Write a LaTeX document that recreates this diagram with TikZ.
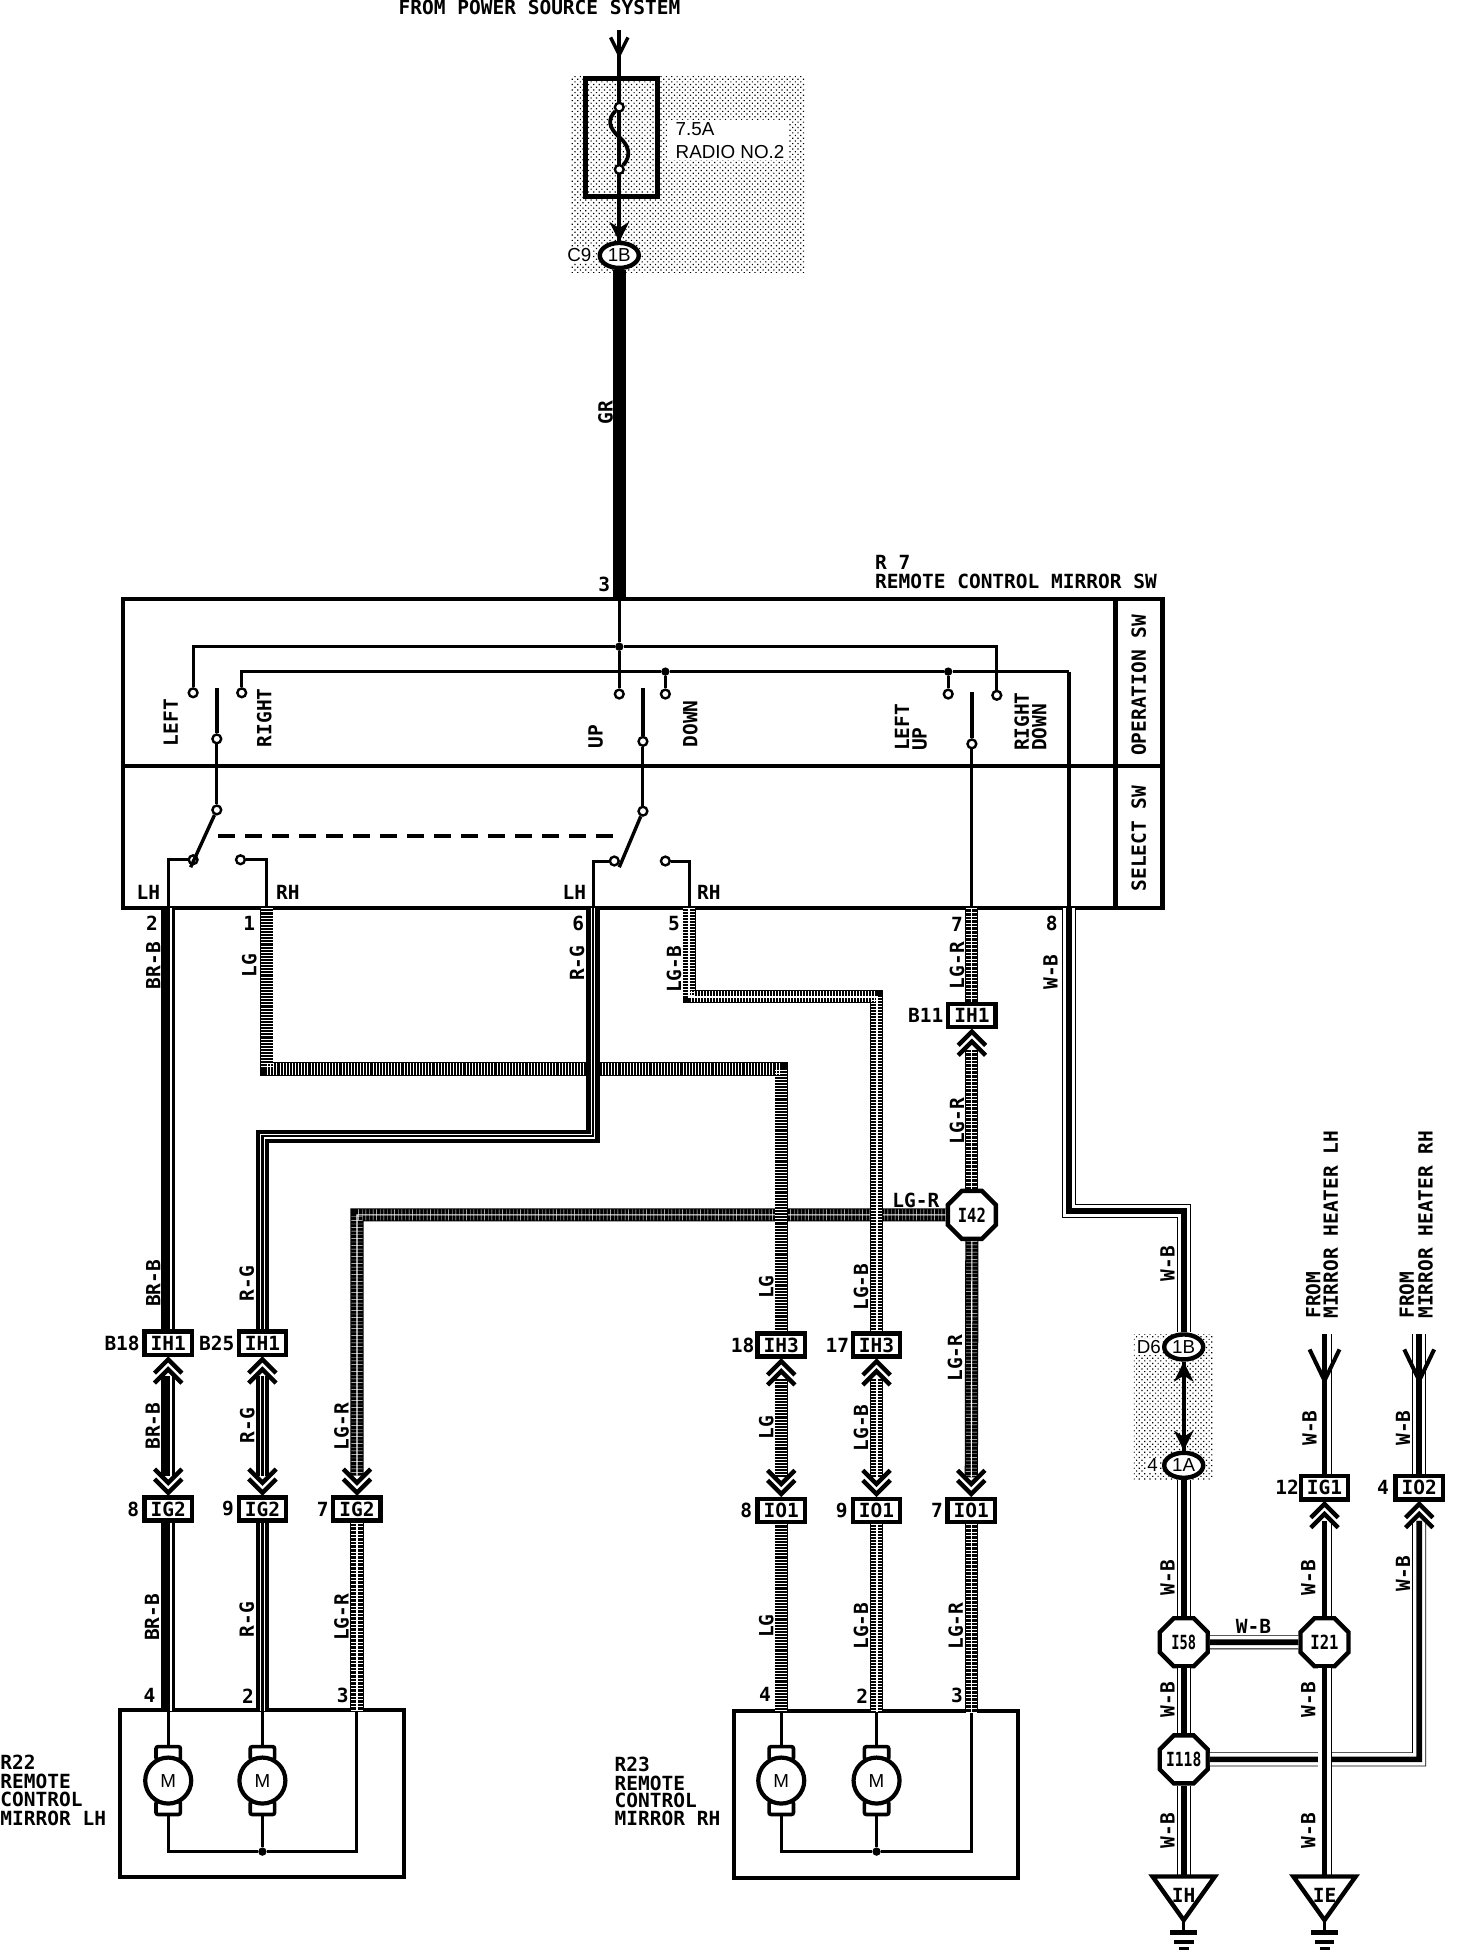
\documentclass[tikz,border=0pt]{standalone}
\usepackage{fontspec}
\setmainfont{Liberation Sans}
\newfontfamily\lbfam{DejaVu Sans Mono}
\usetikzlibrary{shapes.geometric,patterns.meta,calc}
\newcommand\lb{\fontsize{9.75}{11}\selectfont\lbfam\bfseries}
\newcommand\sn{\fontsize{9.4}{11}\selectfont}
\newcommand\oc[2][.8]{\makebox[0pt]{\scalebox{#1}[1]{#2}}}
\newcounter{tc}
\tikzset{
  lab/.style={font=\lb,inner sep=0pt},
  vlab/.style={font=\lb,inner sep=0pt,rotate=90},
  slab/.style={font=\sn,inner sep=0pt},
  sbg/.style={font=\sn,inner sep=.6pt,fill=white},
  brd/.style={line width=2pt,line join=miter},
  thn/.style={line width=1.5pt,line join=miter},
  termn/.style={circle,draw,fill=white,line width=1.2pt,minimum size=4.4pt,inner sep=0pt},
  jn/.style={circle,fill=black,minimum size=4.2pt,inner sep=0pt},
  conn/.style={rectangle,draw,fill=white,line width=2.2pt,minimum width=23.7pt,minimum height=11.6pt,inner sep=0pt,font=\lb},
  oval/.style={ellipse,draw,fill=white,line width=2.2pt,minimum width=19.5pt,minimum height=12.5pt,inner sep=0pt,font=\sn},
  octa/.style={regular polygon,regular polygon sides=8,draw,fill=white,line width=2.2pt,minimum size=26pt,inner sep=0pt,font=\lb},
  brb/.style={draw=black,line width=7pt,postaction={draw=white,line width=.55pt,transform canvas={xshift=1.4pt}}},
  lg/.style={draw=black,line width=6.7pt,postaction={draw=white,line width=6pt,dash pattern=on .25pt off 1.3pt}},
  rg/.style={draw=black,line width=6.8pt,postaction={draw=white,line width=2.2pt},postaction={draw=black,line width=1.1pt}},
  lgb/.style={draw=black,line width=6.5pt,postaction={draw=white,line width=5.6pt,dash pattern=on .3pt off 1.2pt},postaction={draw=white,line width=1pt}},
  lgr/.style={draw=black,line width=6.6pt,postaction={draw=white,line width=5.6pt,dash pattern=on .2pt off 1.6pt},postaction={draw=white,line width=.55pt}},
  wb/.style={draw=black,line width=7pt,postaction={draw=white,line width=6.2pt},postaction={draw=black,line width=2.8pt}},
  stipple/.style={pattern={Dots[radius=.42pt,distance=1.9pt,angle=45]},pattern color=black},
  endarrow/.style={shorten >=9.7pt},
  startarrow/.style={shorten <=9.7pt},
  chevd/.pic={\draw[line width=2.2pt,line join=miter] (-11,-12)--(0,-1)--(11,-12) (-11,-20)--(0,-9)--(11,-20);},
  chevu/.pic={\draw[line width=2.2pt,line join=miter] (-11,12)--(0,1)--(11,12) (-11,20)--(0,9)--(11,20);},
  openv/.pic={\draw[line width=2pt,line join=miter] (-12,-25)--(0,0)--(12,-25);},
  openvs/.pic={\draw[line width=1.7pt,line join=miter] (-7,-14)--(0,0)--(7,-14);},
  soliddn/.pic={\fill (0,0)--(-8,-16)--(0,-11)--(8,-16)--cycle;},
  solidup/.pic={\fill (0,0)--(-8,16)--(0,11)--(8,16)--cycle;},
}
\newcommand\tx[4][lab]{\stepcounter{tc}\node[#1] (t\arabic{tc}) at (#2,#3) {#4};}
\newcommand\vt[3]{\stepcounter{tc}\node[vlab] (t\arabic{tc}) at (#1,#2) {#3};}
\newcommand\bv[3]{\stepcounter{tc}\node[vlab,anchor=west] (t\arabic{tc}) at (#1,#2) {#3};}
\newcommand\trm[3]{\node[termn] (#1) at (#2,#3) {};}
\newcommand\motor[3]{%
  \node[rectangle,draw,fill=white,rounded corners=1pt,line width=1.8pt,minimum width=12.2pt,minimum height=6.5pt,inner sep=0pt] (#1t) at (#2,#3-22) {};
  \node[rectangle,draw,fill=white,rounded corners=1pt,line width=1.8pt,minimum width=12.2pt,minimum height=6.5pt,inner sep=0pt] (#1b) at (#2,#3+22) {};
  \node[circle,draw,fill=white,line width=2.1pt,minimum size=23pt,inner sep=0pt,font=\sn] (#1) at (#2,#3) {M};
}
\newcommand\tri[3]{%
  \coordinate (#1l) at (#2-25,1506);\coordinate (#1r) at (#2+25,1506);\coordinate (#1a) at (#2,1541);
  \draw[fill=white,line width=2.2pt,line join=miter] (#1l)--(#1r)--(#1a)--cycle;
  \tx{#2}{1521}{#3}
  \coordinate (#1g) at (#2,1551);
  \draw[line width=1.3pt] (#1a)--(#1g);
  \draw[line width=2.2pt] ($(#1g)+(-11,0)$)--($(#1g)+(11,0)$);
  \draw[line width=1.9pt] ($(#1g)+(-8,7.6)$)--($(#1g)+(8,7.6)$);
  \draw[line width=1.7pt] ($(#1g)+(-4,13)$)--($(#1g)+(4,13)$);
}
\begin{document}
\begin{tikzpicture}[x=0.623pt,y=-0.623pt]
\useasboundingbox (0,0) rectangle (1168.55,1566.6);
% shaded zones
\path[stipple] (458,61) rectangle (646,219);
\path[stipple] (910,1071) rectangle (973,1187);
\node[fill=white,inner sep=0pt,minimum width=60pt,minimum height=20pt,anchor=west] (txtbg) at (536,112) {};
% top
\tx{433}{6}{FROM POWER SOURCE SYSTEM}
\coordinate (pwr) at (497,24);
\node[oval] (c9) at (497,205) {1B};
\draw[line width=1.9pt] (pwr)--(c9);
\pic at (497,44) {openvs};
\node[rectangle,draw,line width=2.4pt,minimum width=36pt,minimum height=59pt,inner sep=0pt] (fuse) at (499,110.5) {};
\trm{fa}{497}{86}\trm{fb}{497}{136}
\draw[line width=1.9pt] (fa) .. controls (487,96) and (489,103) .. (497,110) .. controls (505,117) and (507,125) .. (fb);
\pic at (497,194) {soliddn};
\tx[slab,anchor=west]{542}{104}{7.5A}
\tx[slab,anchor=west]{542}{122}{RADIO NO.2}
\tx[sbg]{465}{205}{C9}
\coordinate (pin3) at (497,481);
\draw[line width=6.3pt] (c9)--(pin3);
\vt{486}{331}{GR}
\tx{485}{469}{3}
\tx[lab,anchor=west]{702}{451}{R 7}
\tx[lab,anchor=west]{702}{467}{REMOTE CONTROL MIRROR SW}
% switch box
\node[rectangle,draw,line width=2.1pt,minimum width=519.6pt,minimum height=154.5pt,inner sep=0pt] (swbox) at (516,605) {};
\coordinate (dl) at (99,615);\coordinate (dr) at (933,615);\coordinate (vt) at (895,481);\coordinate (vb) at (895,729);
\draw[brd] (dl)--(dr);
\draw[line width=2.6pt] (vt)--(vb);
\vt{914}{550}{OPERATION SW}
\vt{914}{673}{SELECT SW}
% operation switch contacts
\node[jn] (j1) at (497,519) {};
\node[jn] (j2) at (534,539) {};
\node[jn] (j3) at (761,539) {};
\trm{l1}{155}{556}\trm{r1}{194}{556}\trm{u1}{497}{557}\trm{d1}{534}{557}\trm{lu}{761}{557}\trm{rd}{800}{558}
\coordinate (k1) at (800,519);\coordinate (k2) at (858,539);\coordinate (k3) at (858,729);
\draw[thn] (pin3)--(j1)--(u1);
\draw[thn] (l1)|-(j1)--(k1)--(rd);
\draw[thn] (r1)|-(j2)--(j3)--(k2);
\draw[line width=2.2pt] (k2)--(k3);
\draw[thn] (j2)--(d1);\draw[thn] (j3)--(lu);
% arms
\coordinate (a1t) at (174,552);\coordinate (a2t) at (516,552);\coordinate (a3t) at (780,555);
\coordinate (p7) at (780,729);
\trm{a1m}{174}{593}\trm{a2m}{516}{595}\trm{a3m}{780}{597}
\trm{a1b}{174}{650}\trm{a2b}{516}{651}
\trm{lh1}{155}{690}\trm{rh1}{193}{690}\trm{lh2}{493}{691}\trm{rh2}{534}{691}
\draw[line width=1.8pt] (a1t)--(a1m);\draw[line width=1.8pt] (a2t)--(a2m);\draw[line width=1.8pt] (a3t)--(a3m);
\draw[thn] (a1m)--(a1b);\draw[thn] (a2m)--(a2b);\draw[thn] (a3m)--(p7);
\coordinate (a1e) at (153,696);\coordinate (a2e) at (497,696);
\draw[line width=1.7pt] (a1b)--(a1e);\draw[line width=1.7pt] (a2b)--(a2e);
\coordinate (ds) at (175,671);\coordinate (de) at (500,671);
\draw[line width=1.6pt,dash pattern=on 8.5pt off 5pt] (ds)--(de);
\coordinate (p2) at (135,729);\coordinate (p1) at (214,729);\coordinate (p6) at (476,729);\coordinate (p5) at (553,729);
\draw[thn] (lh1)-|(p2);\draw[thn] (rh1)-|(p1);\draw[thn] (lh2)-|(p6);\draw[thn] (rh2)-|(p5);
\tx{119}{716}{LH}\tx{231}{716}{RH}\tx{461}{716}{LH}\tx{569}{716}{RH}
\vt{137}{580}{LEFT}\vt{212}{576}{RIGHT}\vt{478}{591}{UP}\vt{554}{581}{DOWN}
\bv{724}{603}{LEFT}\bv{738}{603}{UP}\bv{820}{603}{RIGHT}\bv{834}{603}{DOWN}
% connectors
\node[conn] (b18) at (135,1078) {IH1};
\node[conn] (b25) at (210.6,1078) {IH1};
\node[conn] (g8) at (135,1211) {IG2};
\node[conn] (g9) at (210.6,1211) {IG2};
\node[conn] (g7) at (286.5,1211) {IG2};
\node[conn] (h18) at (627,1079.5) {IH3};
\node[conn] (h17) at (703.5,1079.5) {IH3};
\node[conn] (o8) at (627,1212.4) {IO1};
\node[conn] (o9) at (703.5,1212.4) {IO1};
\node[conn] (o7) at (779.5,1212.4) {IO1};
\node[conn] (b11) at (780,815) {IH1};
\node[octa] (i42) at (780,975) {\oc{I42}};
\node[oval] (d6) at (950,1081) {1B};
\node[oval] (d4) at (950,1176) {1A};
\node[conn] (g1) at (1063,1194) {IG1};
\node[conn] (o2) at (1139,1194) {IO2};
\node[octa] (i58) at (950,1318) {\oc[.7]{I58}};
\node[octa] (i21) at (1063,1318) {\oc{I21}};
\node[octa] (i118) at (950,1412) {\oc[.75]{I118}};
\coordinate (ih) at (950,1506);\coordinate (ie) at (1063,1506);
% motor boxes
\node[rectangle,draw,line width=2.1pt,minimum width=142pt,minimum height=83.5pt,inner sep=0pt] (mlh) at (210,1439.5) {};
\node[rectangle,draw,line width=2.1pt,minimum width=142pt,minimum height=83.5pt,inner sep=0pt] (mrh) at (703,1440) {};
\motor{ma}{135}{1429}\motor{mb}{210.6}{1429}\motor{mc}{627}{1429}\motor{md}{703.5}{1429}
\coordinate (t4l) at (135,1373);\coordinate (t2l) at (210.6,1373);\coordinate (t3l) at (286.5,1373);
\coordinate (t4r) at (627,1374);\coordinate (t2r) at (703.5,1374);\coordinate (t3r) at (779.5,1374);
\node[jn] (jl) at (210.6,1486) {};\node[jn] (jr) at (703.5,1486) {};
\coordinate (bl1) at (135,1486);\coordinate (bl2) at (286.5,1486);\coordinate (br1) at (627,1486);\coordinate (br2) at (779.5,1486);
\draw[thn] (t4l)--(mat);\draw[thn] (t2l)--(mbt);\draw[thn] (t4r)--(mct);\draw[thn] (t2r)--(mdt);
\draw[thn] (mab)--(bl1)--(jl)--(bl2)--(t3l);\draw[thn] (mbb)--(jl);
\draw[thn] (mcb)--(br1)--(jr)--(br2)--(t3r);\draw[thn] (mdb)--(jr);
% wires: LG-R first, so that the others cross over it
\coordinate (c7a) at (286.5,975);
\draw[lgr,line join=miter,endarrow] (i42.west)--(c7a)--(g7.north);
\coordinate (c1a) at (214,858);\coordinate (c1b) at (627,858);
\draw[lg,line join=miter] (p1)--(c1a)--(c1b)--(h18.north);
\coordinate (c6b) at (476,912);\coordinate (c6c) at (210.6,912);
\draw[rg,line join=miter] (p6)--(c6b)--(c6c)--(b25.north);
\coordinate (c5a) at (553,800);\coordinate (c5b) at (703.5,800);
\draw[lgb,line join=miter] (p5)--(c5a)--(c5b)--(h17.north);
\draw[brb] (p2)--(b18.north);
\draw[lgr] (p7)--(b11.north);
\draw[lgr,startarrow] (b11.south)--(i42.north);
\draw[lgr,endarrow] (i42.south)--(o7.north);
\coordinate (c8a) at (858,972);\coordinate (c8b) at (950,972);
\draw[wb,line join=miter] (k3)--(c8a)--(c8b)--(d6.north);
\draw[brb,startarrow,endarrow] (b18.south)--(g8.north);
\draw[rg,startarrow,endarrow] (b25.south)--(g9.north);
\draw[lg,startarrow,endarrow] (h18.south)--(o8.north);
\draw[lgb,startarrow,endarrow] (h17.south)--(o9.north);
\draw[brb] (g8.south)--(t4l);
\draw[rg] (g9.south)--(t2l);
\draw[lgr] (g7.south)--(t3l);
\draw[lg] (o8.south)--(t4r);
\draw[lgb] (o9.south)--(t2r);
\draw[lgr] (o7.south)--(t3r);
\pic at (135,1199) {chevd};\pic at (210.6,1199) {chevd};\pic at (286.5,1199) {chevd};
\pic at (627,1200) {chevd};\pic at (703.5,1200) {chevd};\pic at (779.5,1200) {chevd};
\pic at (135,1090) {chevu};\pic at (210.6,1090) {chevu};\pic at (627,1091.5) {chevu};\pic at (703.5,1091.5) {chevu};
\pic at (780,827) {chevu};
% right-hand ground group
\draw[line width=1.8pt] (d6)--(d4);
\pic at (950,1093) {solidup};\pic at (950,1164) {soliddn};
\draw[wb] (d4.south)--(i58.north);
\draw[wb] (i58.south)--(i118.north);
\draw[wb] (i118.south)--(ih);
\draw[wb] (i58.east)--(i21.west);
\coordinate (c2a) at (1139,1412);
\draw[wb,line join=miter,endarrow] (i118.east)--(c2a)--(o2.south);
\draw[wb] (i21.south)--(ie);
\draw[wb,endarrow] (i21.north)--(g1.south);
\coordinate (m1) at (1063,1071);\coordinate (m2) at (1139,1071);
\draw[wb] (m1)--(g1.north);\draw[wb] (m2)--(o2.north);
\pic at (1063,1108) {openv};\pic at (1139,1108) {openv};
\pic at (1063,1206) {chevu};\pic at (1139,1206) {chevu};
\tri{gi}{950}{IH}
\tri{ge}{1063}{IE}
% connector / pin labels
\tx{98}{1078}{B18}\tx{174}{1078}{B25}\tx{107}{1211}{8}\tx{183}{1211}{9}\tx{259}{1211}{7}
\tx{596}{1079.5}{18}\tx{672}{1079.5}{17}\tx{599}{1212.4}{8}\tx{675.5}{1212.4}{9}\tx{752}{1212.4}{7}
\tx{743}{815}{B11}
\tx[sbg]{922}{1081}{D6}\tx[sbg]{925}{1176}{4}
\tx{1033}{1194}{12}\tx{1110}{1194}{4}
\tx{122}{741}{2}\tx{200}{741}{1}\tx{464}{741}{6}\tx{541}{741}{5}\tx{768}{742}{7}\tx{844}{741}{8}
\tx{120}{1361}{4}\tx{199}{1361}{2}\tx{275}{1361}{3}\tx{614}{1360}{4}\tx{692}{1361}{2}\tx{768}{1361}{3}
% wire labels
\vt{123}{775}{BR-B}\vt{200}{775}{LG}\vt{463}{773}{R-G}\vt{541}{778}{LG-B}\vt{768}{775}{LG-R}\vt{843}{780}{W-B}
\vt{768}{900}{LG-R}\tx{735}{963}{LG-R}
\vt{123}{1030}{BR-B}\vt{198}{1030}{R-G}\vt{615}{1033}{LG}\vt{691}{1033}{LG-B}\vt{766.5}{1090}{LG-R}
\vt{122.5}{1144.5}{BR-B}\vt{198.5}{1144}{R-G}\vt{274}{1145}{LG-R}\vt{615}{1146}{LG}\vt{691}{1146}{LG-B}
\vt{122}{1298}{BR-B}\vt{198}{1300}{R-G}\vt{274}{1298}{LG-R}\vt{615}{1305}{LG}\vt{691}{1305}{LG-B}\vt{767}{1305}{LG-R}
\vt{937}{1014}{W-B}\vt{937}{1266}{W-B}\vt{1050}{1266}{W-B}\vt{1126}{1263}{W-B}
\vt{1051}{1146}{W-B}\vt{1126}{1146}{W-B}\tx{1006}{1305.5}{W-B}
\vt{937}{1364}{W-B}\vt{1050}{1364}{W-B}\vt{937}{1469}{W-B}\vt{1050}{1469}{W-B}
% heater labels
\bv{1054}{1058.6}{FROM}\bv{1068}{1058.6}{MIRROR HEATER LH}\bv{1129}{1058.6}{FROM}\bv{1144}{1058.6}{MIRROR HEATER RH}
% mirror labels
\tx[lab,anchor=west]{0}{1414}{R22}\tx[lab,anchor=west]{0}{1430}{REMOTE}\tx[lab,anchor=west]{0}{1444}{CONTROL}\tx[lab,anchor=west]{0}{1459}{MIRROR LH}
\tx[lab,anchor=west]{493}{1416}{R23}\tx[lab,anchor=west]{493}{1431}{REMOTE}\tx[lab,anchor=west]{493}{1445}{CONTROL}\tx[lab,anchor=west]{493}{1459}{MIRROR RH}
\end{tikzpicture}
\end{document}
